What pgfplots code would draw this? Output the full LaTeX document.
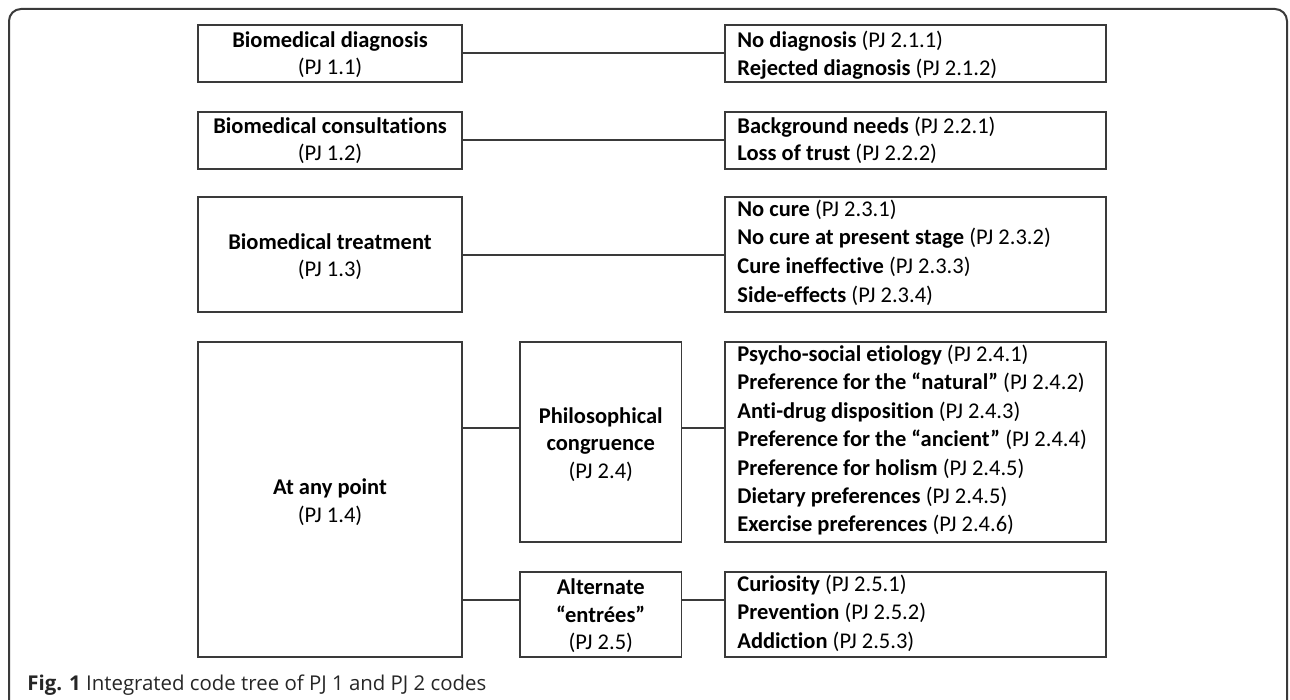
\documentclass[border=0pt]{standalone}
\usepackage{pgfplots}
\pgfplotsset{compat=1.18}
\usepackage{fontspec}
\setmainfont{Carlito}[Ligatures=NoCommon]
\newfontfamily\capfont{Open Sans}
\definecolor{ln}{HTML}{3A3A3A}
\newcommand{\bx}[4]{\addplot[ln, line width=0.9pt, line cap=rect, line join=miter, mark=none] coordinates {(#1,#2) (#3,#2) (#3,#4) (#1,#4) (#1,#2)};}
\newcommand{\cn}[3]{\addplot[ln, line width=0.8pt, mark=none] coordinates {(#1,#3) (#2,#3)};}
\newcommand{\tl}[3]{\node[anchor=base west, inner sep=0pt, font=\fontsize{11.25}{13.75}\selectfont] at (axis cs:#1,#2) {#3};}
\newcommand{\tc}[3]{\node[anchor=base, inner sep=0pt, font=\fontsize{11.25}{13.75}\selectfont] at (axis cs:#1,#2) {#3};}
\begin{document}
\begin{tikzpicture}
\begin{axis}[
  width=645pt, height=350pt, scale only axis,
  xmin=0, xmax=1290, ymin=0, ymax=700, y dir=reverse,
  hide axis, clip=true]
\path (axis cs:0,0) rectangle (axis cs:1290,700);
% outer frame
\addplot[ln, line width=1pt, rounded corners=6pt, mark=none] coordinates {(9,780) (9,9) (1287,9) (1287,780)};
% boxes (x1,y1,x2,y2)
\bx{198}{25}{462}{82}
\bx{725}{25}{1106}{82}
\bx{198}{112}{462}{169}
\bx{725}{112}{1106}{169}
\bx{198}{197}{462}{312}
\bx{725}{197}{1106}{312}
\bx{198}{342}{462}{657}
\bx{520}{342}{681.5}{542}
\bx{725}{342}{1106}{542}
\bx{520}{572}{681.5}{657}
\bx{725}{572}{1106}{657}
% connectors
\cn{462}{725}{53}
\cn{462}{725}{140}
\cn{462}{725}{255}
\cn{462}{520}{428}
\cn{681.5}{725}{428}
\cn{462}{520}{600}
\cn{681.5}{725}{600}
% left column texts
\tc{330}{47.5}{\textbf{Biomedical diagnosis}}
\tc{330}{75}{(PJ 1.1)}
\tc{330}{133.5}{\textbf{Biomedical consultations}}
\tc{330}{161}{(PJ 1.2)}
\tc{330}{249.5}{\textbf{Biomedical treatment}}
\tc{330}{277}{(PJ 1.3)}
\tc{330}{494.5}{\textbf{At any point}}
\tc{330}{522}{(PJ 1.4)}
% middle texts
\tc{600.75}{423}{\textbf{Philosophical}}
\tc{600.75}{450.5}{\textbf{congruence}}
\tc{600.75}{478}{(PJ 2.4)}
\tc{600.75}{594.5}{\textbf{Alternate}}
\tc{600.75}{622}{\textbf{“entrées”}}
\tc{600.75}{649.5}{(PJ 2.5)}
% right texts
\tl{737}{48}{\textbf{No diagnosis} (PJ 2.1.1)}
\tl{737}{75.5}{\textbf{Rejected diagnosis} (PJ 2.1.2)}
\tl{737}{133.5}{\textbf{Background needs} (PJ 2.2.1)}
\tl{737}{161}{\textbf{Loss of trust} (PJ 2.2.2)}
\tl{737}{216.5}{\textbf{No cure} (PJ 2.3.1)}
\tl{737}{245}{\textbf{No cure at present stage} (PJ 2.3.2)}
\tl{737}{273.5}{\textbf{Cure ineffective} (PJ 2.3.3)}
\tl{737}{302}{\textbf{Side-effects} (PJ 2.3.4)}
\tl{737}{361.5}{\textbf{Psycho-social etiology} (PJ 2.4.1)}
\tl{737}{389.9}{\textbf{Preference for the “natural”} (PJ 2.4.2)}
\tl{737}{418.3}{\textbf{Anti-drug disposition} (PJ 2.4.3)}
\tl{737}{446.7}{\textbf{Preference for the “ancient”} (PJ 2.4.4)}
\tl{737}{475.1}{\textbf{Preference for holism} (PJ 2.4.5)}
\tl{737}{503.5}{\textbf{Dietary preferences} (PJ 2.4.5)}
\tl{737}{531.9}{\textbf{Exercise preferences} (PJ 2.4.6)}
\tl{737}{591.5}{\textbf{Curiosity} (PJ 2.5.1)}
\tl{737}{619.9}{\textbf{Prevention} (PJ 2.5.2)}
\tl{737}{648.3}{\textbf{Addiction} (PJ 2.5.3)}
% caption
\node[anchor=base west, inner sep=0pt, font=\capfont\fontsize{10.2}{12}\selectfont, text=black!85] at (axis cs:27,690) {\textbf{Fig. 1} Integrated code tree of PJ 1 and PJ 2 codes};
\end{axis}
\end{tikzpicture}
\end{document}
